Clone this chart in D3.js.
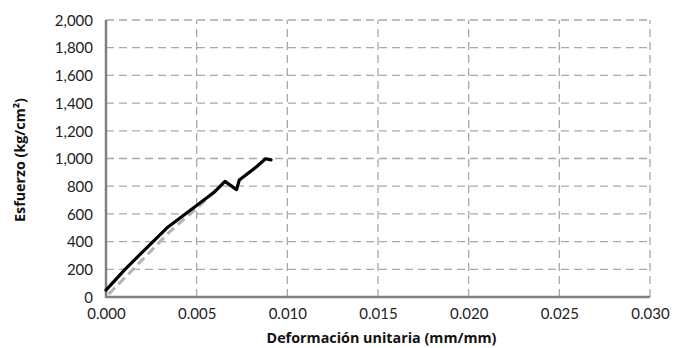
<!DOCTYPE html>
<html><head><meta charset="utf-8">
<script src="https://cdn.jsdelivr.net/npm/d3@7"></script>
<style>body{margin:0;background:#fff}svg{display:block}</style>
</head><body>
<svg id="c" width="675" height="348"></svg>
<script>
const xTicks = [0, 0.005, 0.010, 0.015, 0.020, 0.025, 0.030];
const yTicks = [0, 200, 400, 600, 800, 1000, 1200, 1400, 1600, 1800, 2000];
const blackX = [0, 0.00105, 0.00335, 0.00496, 0.0060, 0.00656, 0.0072, 0.00735, 0.0083, 0.0088, 0.0091];
const blackY = [50, 200, 498, 657, 760, 835, 775, 845, 940, 998, 990];
const grayX = [0.00015, 0.0035, 0.0050, 0.0062];
const grayY = [20, 470, 640, 790];
const xTitle = "Deformación unitaria (mm/mm)";
const yTitle = "Esfuerzo (kg/cm²)";

const svg = d3.select("#c");
const L = 106, R = 650, T = 20, B = 297;
const x = d3.scaleLinear().domain([0, 0.03]).range([L, R]);
const y = d3.scaleLinear().domain([0, 2000]).range([B, T]);
const font = "Lato, 'Open Sans', sans-serif";
const tfont = "'Open Sans', Lato, sans-serif";

// grid
svg.append("g").selectAll("line").data(yTicks.filter(d => d > 0)).join("line")
  .attr("x1", L).attr("x2", R).attr("y1", d => y(d)).attr("y2", d => y(d))
  .attr("stroke", "#a9a9a9").attr("stroke-width", 1.3).attr("stroke-dasharray", "8,5");
svg.append("g").selectAll("line").data(xTicks.filter(d => d > 0)).join("line")
  .attr("y1", B).attr("y2", T).attr("x1", d => x(d)).attr("x2", d => x(d))
  .attr("stroke", "#a9a9a9").attr("stroke-width", 1.3).attr("stroke-dasharray", "8,5");

// axes
const yAxis = d3.axisLeft(y).tickValues(yTicks).tickSize(0).tickPadding(13).tickFormat(d3.format(","));
const xAxis = d3.axisBottom(x).tickValues(xTicks).tickSize(0).tickPadding(11).tickFormat(d3.format(".3f"));
const gy = svg.append("g").attr("transform", `translate(${L},0)`).call(yAxis);
const gx = svg.append("g").attr("transform", `translate(0,${B})`).call(xAxis);
[gx, gy].forEach(g => {
  g.select(".domain").remove();
  g.selectAll("text").attr("font-family", font).attr("font-size", 15).attr("fill", "#222");
});
gy.selectAll("text").attr("dy", "0.35em");
svg.append("line").attr("x1", L).attr("x2", R).attr("y1", B).attr("y2", B).attr("stroke", "#808080").attr("stroke-width", 2.5);
svg.append("line").attr("x1", L).attr("x2", L).attr("y1", T).attr("y2", B + 1).attr("stroke", "#808080").attr("stroke-width", 2.5);

// series
const line = d3.line().x(d => x(d[0])).y(d => y(d[1]));
svg.append("path").datum(grayX.map((v, i) => [v, grayY[i]])).attr("d", line)
  .attr("fill", "none").attr("stroke", "#b3b3b3").attr("stroke-width", 3).attr("stroke-dasharray", "9,5");
svg.append("path").datum(blackX.map((v, i) => [v, blackY[i]])).attr("d", line)
  .attr("fill", "none").attr("stroke", "#000").attr("stroke-width", 3.2).attr("stroke-linejoin", "round").attr("stroke-linecap", "round");

// titles
function fit(t, target) {
  const w = t.node().getComputedTextLength();
  const s = parseFloat(t.attr("font-size"));
  t.attr("font-size", (s * target / w).toFixed(2));
}
const xt = svg.append("text").attr("x", 381.5).attr("y", 343).attr("text-anchor", "middle")
  .attr("font-family", tfont).attr("font-weight", "bold").attr("font-size", 14).attr("fill", "#111").text(xTitle);
fit(xt, 230);
const yt = svg.append("text").attr("transform", `translate(25,160) rotate(-90)`).attr("text-anchor", "middle")
  .attr("font-family", tfont).attr("font-weight", "bold").attr("font-size", 13).attr("fill", "#111").text(yTitle);
fit(yt, 124);
</script>
</body></html>
